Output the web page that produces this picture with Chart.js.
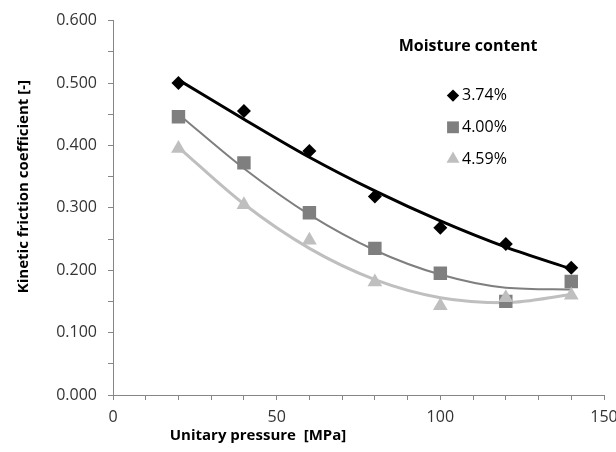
<!DOCTYPE html>
<html>
<head>
<meta charset="utf-8">
<title>Kinetic friction coefficient vs unitary pressure</title>
<script src="https://cdn.jsdelivr.net/npm/chart.js@4.4.1/dist/chart.umd.min.js"></script>
<style>
  html, body { margin: 0; padding: 0; background: #fff; }
  #wrap { width: 616px; height: 452px; }
</style>
</head>
<body>
<div id="wrap"><canvas id="frictionChart" width="616" height="452"></canvas></div>
<script>
// ---- data ----
const pressure = [20, 40, 60, 80, 100, 120, 140];          // MPa
const seriesNames = ['3.74%', '4.00%', '4.59%'];

// measured points
const mc374 = [0.500, 0.455, 0.391, 0.318, 0.268, 0.242, 0.204];
const mc400 = [0.446, 0.372, 0.292, 0.235, 0.195, 0.150, 0.182];
const mc459 = [0.395, 0.305, 0.248, 0.181, 0.143, 0.156, 0.160];

// trend curves
const trend374 = [0.505, 0.442, 0.381, 0.327, 0.279, 0.237, 0.202];
const trend400 = [0.450, 0.363, 0.289, 0.232, 0.193, 0.172, 0.169];
const trend459 = [0.397, 0.306, 0.235, 0.185, 0.156, 0.148, 0.161];

const xTicks = [0, 50, 100, 150];
const yTicks = [0, 0.1, 0.2, 0.3, 0.4, 0.5, 0.6];

const xTitle = 'Unitary pressure  [MPa]';
const yTitle = 'Kinetic friction coefficient [-]';
const legendTitle = 'Moisture content';

// ---- styling ----
const FONT = '"Open Sans", "DejaVu Sans", sans-serif';
const AXIS = '#868686';
const colors = ['#000000', '#7f7f7f', '#bfbfbf'];
const lineWidths = [3, 2, 3];
const markers = [
  { pointStyle: 'rectRot', radius: 7 },
  { pointStyle: 'rect', radius: 9.5 },
  { pointStyle: 'triangle', radius: 8.5 }
];

const toXY = ys => pressure.map((x, i) => ({ x, y: ys[i] }));
const measured = [mc374, mc400, mc459];
const trends = [trend374, trend400, trend459];

const datasets = [];
trends.forEach((t, i) => {
  datasets.push({
    label: seriesNames[i] + ' trend',
    data: toXY(t),
    showLine: true,
    borderColor: colors[i],
    borderWidth: lineWidths[i],
    pointRadius: 0,
    cubicInterpolationMode: 'monotone',
    order: 10 + i
  });
});
measured.forEach((m, i) => {
  datasets.push({
    label: seriesNames[i],
    data: toXY(m),
    showLine: false,
    backgroundColor: colors[i],
    borderColor: colors[i],
    borderWidth: 0,
    pointStyle: markers[i].pointStyle,
    pointRadius: markers[i].radius,
    pointHoverRadius: markers[i].radius,
    order: 3 - i
  });
});

// axis titles + in-plot legend
const textLayer = {
  id: 'textLayer',
  afterDraw(chart) {
    const { ctx, chartArea } = chart;
    ctx.save();
    ctx.fillStyle = '#000';
    ctx.textAlign = 'center';
    ctx.textBaseline = 'middle';

    ctx.font = 'bold 15px ' + FONT;
    ctx.fillText(xTitle, chartArea.left + 145, chartArea.bottom + 41);

    ctx.save();
    ctx.translate(24, chartArea.top + 166);
    ctx.rotate(-Math.PI / 2);
    ctx.fillText(yTitle, 0, 0);
    ctx.restore();

    // legend
    const lx = chartArea.left + 340;
    const ly = chartArea.top + 26;
    ctx.font = 'bold 16px ' + FONT;
    ctx.fillText(legendTitle, lx + 15, ly);

    ctx.font = '16px ' + FONT;
    ctx.textAlign = 'left';
    seriesNames.forEach((name, i) => {
      const y = ly + 49 + i * 31.7;
      ctx.fillStyle = colors[i];
      ctx.strokeStyle = colors[i];
      Chart.helpers.drawPoint(ctx, {
        pointStyle: markers[i].pointStyle,
        radius: markers[i].radius * 0.88,
        borderWidth: 0
      }, lx, y);
      ctx.fillStyle = '#000';
      ctx.fillText(name, lx + 9, y);
    });
    ctx.restore();
  }
};

Chart.defaults.font.family = FONT;

new Chart(document.getElementById('frictionChart'), {
  type: 'scatter',
  data: { datasets },
  options: {
    responsive: false,
    animation: false,
    events: [],
    layout: { padding: { top: 18, right: 12, left: 0, bottom: 0 } },
    plugins: {
      legend: { display: false },
      tooltip: { enabled: false }
    },
    scales: {
      x: {
        type: 'linear',
        min: 0,
        max: 150,
        border: { display: true, color: AXIS, width: 1 },
        grid: { drawOnChartArea: false, drawTicks: true, tickLength: 5, color: AXIS },
        ticks: {
          stepSize: 10,
          autoSkip: false,
          maxRotation: 0,
          padding: 8,
          color: '#333',
          font: { size: 16 },
          callback: v => xTicks.includes(v) ? String(v) : ''
        },
        afterFit: s => { s.height = 57; s.paddingRight = 0; }
      },
      y: {
        type: 'linear',
        min: 0,
        max: 0.6,
        border: { display: true, color: AXIS, width: 1 },
        grid: { drawOnChartArea: false, drawTicks: true, tickLength: 5, color: AXIS },
        ticks: {
          stepSize: 0.05,
          autoSkip: false,
          padding: 11,
          color: '#333',
          font: { size: 16 },
          callback: v => {
            const hit = yTicks.find(t => Math.abs(t - v) < 1e-6);
            return hit !== undefined ? hit.toFixed(3) : '';
          }
        },
        afterFit: s => { s.width = 113; }
      }
    }
  },
  plugins: [textLayer]
});
</script>
</body>
</html>
